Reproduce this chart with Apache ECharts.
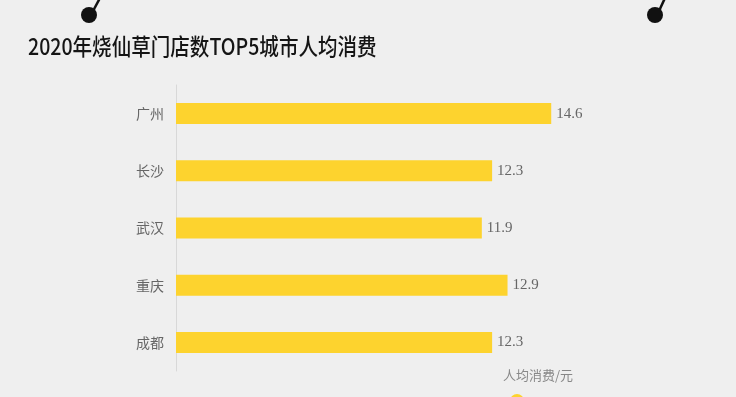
<!DOCTYPE html>
<html>
<head>
<meta charset="utf-8">
<script src="https://cdn.jsdelivr.net/npm/echarts@6/dist/echarts.min.js"></script>
<style>
  html, body { margin: 0; padding: 0; background: #efefef; }
  #main { width: 736px; height: 397px; }
</style>
</head>
<body>
<div id="main"></div>
<script>
const cities = ['广州', '长沙', '武汉', '重庆', '成都'];
const spend = [14.6, 12.3, 11.9, 12.9, 12.3];
const titleText = '2020年烧仙草门店数TOP5城市人均消费';
const unitText = '人均消费/元';

const chart = echarts.init(document.getElementById('main'));

// 两个黑色的"图钉"装饰
function pin(cx, cy, x2) {
  return [
    { type: 'line', shape: { x1: cx + 4, y1: cy - 4, x2: x2, y2: -2 }, style: { stroke: '#111', lineWidth: 2.5 } },
    { type: 'circle', shape: { cx: cx, cy: cy, r: 8 }, style: { fill: '#111' } }
  ];
}

chart.setOption({
  backgroundColor: '#efefef',
  grid: { left: 176, top: 85, height: 286, width: 514 },
  xAxis: {
    type: 'value',
    min: 0,
    max: 20,
    show: false
  },
  yAxis: {
    type: 'category',
    data: cities,
    inverse: true,
    axisLine: { lineStyle: { color: '#d8d8d8', width: 1 } },
    axisTick: { show: false },
    axisLabel: { margin: 12, color: '#666', fontSize: 14, fontFamily: 'Noto Sans CJK SC' }
  },
  series: [{
    type: 'bar',
    data: spend,
    barWidth: 21,
    itemStyle: { color: '#fdd32e' },
    label: {
      show: true,
      position: 'right',
      distance: 5,
      color: '#666',
      fontSize: 15,
      fontFamily: 'Liberation Serif',
      formatter: p => p.value.toFixed(1)
    }
  }],
  graphic: [
    ...pin(89, 15, 100),
    ...pin(655, 15, 665),
    // 标题字体偏窄，用横向缩放贴近原图
    {
      type: 'text', x: 28, y: 35, scaleX: 0.85,
      style: { text: titleText, fill: '#151515', font: '500 23px "Noto Sans CJK SC"' }
    },
    { type: 'text', left: 503, top: 369, style: { text: unitText, fill: '#888', font: '13px "Noto Sans CJK SC"' } },
    { type: 'circle', shape: { cx: 517, cy: 401, r: 7 }, style: { fill: '#fdd32e' } }
  ]
});
</script>
</body>
</html>
